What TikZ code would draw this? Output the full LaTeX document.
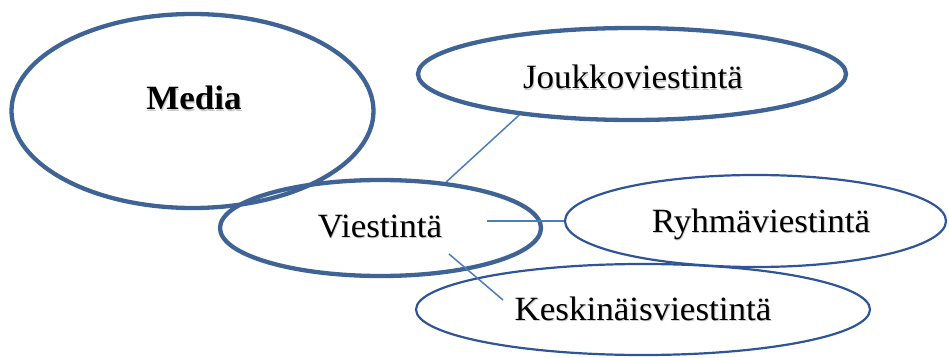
\documentclass[tikz,border=0pt]{standalone}
\usepackage{fontspec}
\setmainfont{Liberation Serif}[FakeStretch=1.03]
\usetikzlibrary{shapes.geometric}
\definecolor{ringdark}{RGB}{62,99,148}
\definecolor{ringthin}{RGB}{47,84,151}
\definecolor{linkblue}{RGB}{74,126,187}
% label text with a soft drop shadow
\newcommand\shtext[1]{\rlap{\kern0.9pt\raisebox{-1.3pt}{\color{black!20}#1}}#1}

\begin{document}
\begin{tikzpicture}[x=1pt,y=-1pt,
  ring/.style={ellipse, draw=ringdark, line width=4.3pt, inner sep=0pt},
  thinring/.style={ellipse, draw=ringthin, line width=2.2pt, inner sep=0pt},
  word/.style={anchor=base, inner sep=0pt, font=\fontsize{34}{40}\selectfont},
  link/.style={draw=linkblue, line width=1.5pt}]
\useasboundingbox (0,0) rectangle (949,358);

% ellipses
\node[ring, minimum width=362pt, minimum height=194pt] (media) at (192.5,111) {};
\node[ring, minimum width=321pt, minimum height=96pt] (viest) at (380.5,228) {};
\node[ring, minimum width=428pt, minimum height=92pt] (joukko) at (632,74) {};
\node[thinring, minimum width=381pt, minimum height=92pt] (ryhma) at (755.5,221) {};
\node[thinring, minimum width=454pt, minimum height=91pt] (keski) at (643,309.5) {};

% labels
\node[word, font=\fontsize{34}{40}\selectfont\bfseries] (tmedia) at (194,110) {\shtext{Media}};
\node[word] (tviest) at (380,237) {\shtext{Viestintä}};
\node[word] (tjoukko) at (633,89) {\shtext{Joukkoviestintä}};
\node[word] (tryhma) at (761,232) {\shtext{Ryhmäviestintä}};
\node[word] (tkeski) at (643,320) {\shtext{Keskinäisviestintä}};

% connector ends inside the ellipses
\coordinate (vr) at (487,221);
\coordinate (vk) at (449,254);
\coordinate (kv) at (503,300);

% connectors
\draw[link] (viest.35) -- (joukko.200);
\draw[link] (vr) -- (ryhma.west);
\draw[link] (vk) -- (kv);
\end{tikzpicture}
\end{document}
